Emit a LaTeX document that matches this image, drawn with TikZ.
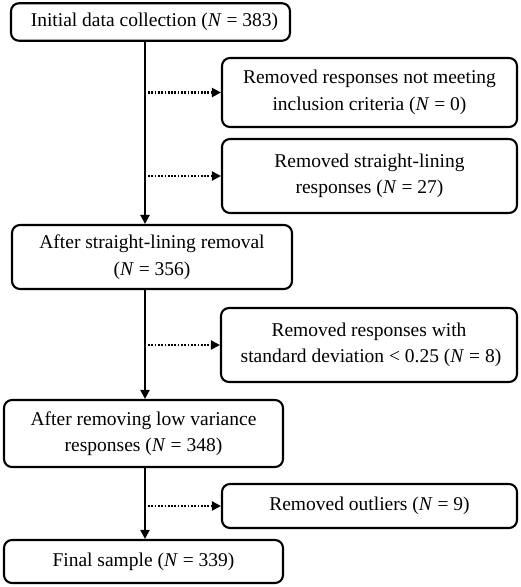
\documentclass[tikz,border=0pt]{standalone}
\usepackage{fontspec}
\setmainfont{Liberation Serif}
\usetikzlibrary{arrows.meta}
\begin{document}
\begin{tikzpicture}[x=1pt,y=-1pt,
  box/.style={draw, line width=2.1pt, rounded corners=8pt, align=center, inner sep=0pt,
    font=\fontsize{19.5}{26.5}\selectfont},
  flow/.style={line width=2.1pt, -{Triangle[length=9pt,width=9pt]}},
  side/.style={line width=2.1pt, dash pattern=on 1.7pt off 1.6pt, -{Triangle[length=9pt,width=9pt]}, shorten <=3pt}]
\useasboundingbox (0,0) rectangle (520,587);
\fill[white] (0,0) rectangle (520,587);
\node[box, minimum width=279pt, minimum height=37.5pt] (b1) at (150.5,22) {\hspace*{8pt}Initial data collection (\textit{N} = 383)};
\node[box, minimum width=295pt, minimum height=69pt] (r1) at (369.5,92.5) {Removed responses not meeting\\inclusion criteria (\textit{N} = 0)};
\node[box, minimum width=295pt, minimum height=74pt] (r2) at (369.5,176) {Removed straight-lining\\responses (\textit{N} = 27)};
\node[box, minimum width=280pt, minimum height=64pt] (b2) at (152,257) {After straight-lining removal\\(\textit{N} = 356)};
\node[box, minimum width=296pt, minimum height=74pt] (r3) at (369,345) {Removed responses with\\\hspace*{4pt}standard deviation < 0.25 (\textit{N} = 8)};
\node[box, minimum width=279pt, minimum height=67pt] (b3) at (143.5,433.5) {After removing low variance\\responses (\textit{N} = 348)};
\node[box, minimum width=295pt, minimum height=44pt] (r4) at (369.5,506) {Removed outliers (\textit{N} = 9)};
\node[box, minimum width=279pt, minimum height=43pt] (b4) at (143.5,561.5) {Final sample (\textit{N} = 339)};
\coordinate (spine) at (145,0);
\draw[flow] (spine |- b1.south) -- (spine |- b2.north);
\draw[flow] (spine |- b2.south) -- (spine |- b3.north);
\draw[flow] (spine |- b3.south) -- (spine |- b4.north);
\draw[side] (spine |- r1.west) -- (r1.west);
\draw[side] (spine |- r2.west) -- (r2.west);
\draw[side] (spine |- r3.west) -- (r3.west);
\draw[side] (spine |- r4.west) -- (r4.west);
\end{tikzpicture}
\end{document}
